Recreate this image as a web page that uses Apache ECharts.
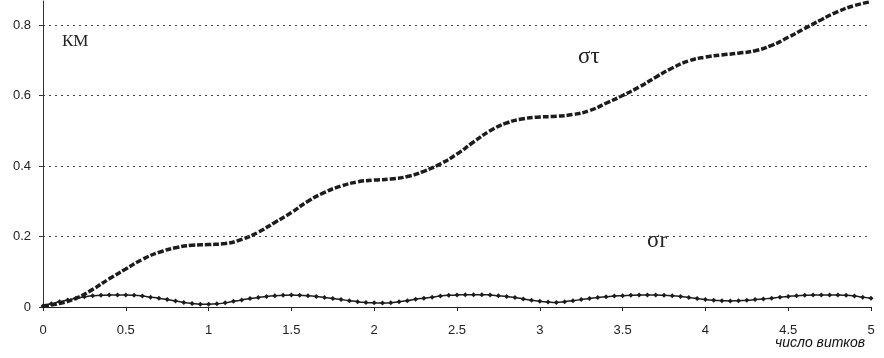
<!DOCTYPE html>
<html>
<head>
<meta charset="utf-8">
<script src="https://cdn.jsdelivr.net/npm/echarts@6/dist/echarts.min.js"></script>
<style>
  html, body { margin: 0; padding: 0; background: #fff; }
  #chart { width: 884px; height: 358px; }
</style>
</head>
<body>
<div id="chart"></div>
<script>
// Orbit count (число витков), step 0.1 for σт and 0.05 for σr
const turnsTau = [];
for (let i = 0; i <= 50; i++) turnsTau.push(+(i * 0.1).toFixed(2));
const turnsR = [];
for (let i = 0; i <= 100; i++) turnsR.push(+(i * 0.05).toFixed(2));

// σт, km
const sigmaTau = [
  0.003, 0.010, 0.025, 0.050, 0.080, 0.108, 0.135, 0.155, 0.168, 0.175,
  0.177, 0.180, 0.192, 0.212, 0.240, 0.268, 0.300, 0.325, 0.343, 0.355,
  0.360, 0.363, 0.370, 0.385, 0.406, 0.434, 0.468, 0.500, 0.522, 0.534,
  0.539, 0.541, 0.546, 0.557, 0.578, 0.600, 0.624, 0.652, 0.678, 0.698,
  0.709, 0.715, 0.720, 0.727, 0.742, 0.765, 0.790, 0.815, 0.838, 0.855,
  0.866
];

// σr, km
const sigmaR = [
  0.003, 0.009, 0.015, 0.020, 0.025, 0.029, 0.032, 0.033, 0.034, 0.034,
  0.034, 0.033, 0.031, 0.028, 0.025, 0.021, 0.017, 0.013, 0.010, 0.008,
  0.008, 0.009, 0.012, 0.016, 0.020, 0.024, 0.027, 0.030, 0.032, 0.033,
  0.034, 0.033, 0.032, 0.030, 0.027, 0.024, 0.021, 0.018, 0.015, 0.013,
  0.012, 0.011, 0.012, 0.015, 0.018, 0.022, 0.025, 0.028, 0.031, 0.033,
  0.034, 0.035, 0.035, 0.035, 0.034, 0.032, 0.030, 0.027, 0.023, 0.019,
  0.016, 0.014, 0.013, 0.015, 0.018, 0.021, 0.024, 0.027, 0.029, 0.031,
  0.032, 0.033, 0.034, 0.034, 0.034, 0.033, 0.032, 0.030, 0.027, 0.024,
  0.021, 0.019, 0.018, 0.017, 0.018, 0.019, 0.021, 0.023, 0.025, 0.028,
  0.030, 0.032, 0.033, 0.034, 0.034, 0.034, 0.034, 0.033, 0.031, 0.028,
  0.025
];

const yTicks = [0, 0.2, 0.4, 0.6, 0.8];
const gridLevels = [0.2, 0.4, 0.6, 0.8];

const ink = '#1c1c1c';
const chart = echarts.init(document.getElementById('chart'));

chart.setOption({
  backgroundColor: '#fff',
  animation: false,
  grid: { left: 43, right: 13, top: 1, bottom: 51 },
  xAxis: {
    type: 'value',
    min: 0,
    max: 5,
    interval: 0.5,
    axisLine: { onZero: true, lineStyle: { color: '#222', width: 1 } },
    axisTick: { show: true, length: 4, lineStyle: { color: '#222' } },
    axisLabel: {
      margin: 17,
      fontFamily: 'Liberation Sans, Arial, sans-serif',
      fontSize: 13,
      color: '#222',
      formatter: v => (Number.isInteger(v) ? String(v) : v.toFixed(1))
    },
    splitLine: { show: false }
  },
  yAxis: {
    type: 'value',
    min: 0,
    max: 0.868,
    interval: 0.2,
    axisLine: { show: true, lineStyle: { color: '#333', width: 1 } },
    axisTick: { show: true, length: 4, customValues: yTicks, lineStyle: { color: '#333' } },
    axisLabel: {
      margin: 12,
      customValues: yTicks,
      fontFamily: 'Liberation Sans, Arial, sans-serif',
      fontSize: 13,
      color: '#222',
      formatter: v => (v === 0 ? '0' : v.toFixed(1))
    },
    splitLine: { show: false }
  },
  series: [
    {
      name: 'στ',
      type: 'line',
      data: turnsTau.map((t, i) => [t, sigmaTau[i]]),
      smooth: true,
      showSymbol: false,
      lineStyle: { color: ink, width: 3.5, type: [6, 2] },
      z: 3,
      // dotted horizontal gridlines
      markLine: {
        silent: true,
        symbol: 'none',
        label: { show: false },
        lineStyle: { color: '#444', width: 1, type: [2, 4] },
        data: gridLevels.map(v => ({ yAxis: v }))
      }
    },
    {
      name: 'σr',
      type: 'line',
      data: turnsR.map((t, i) => [t, sigmaR[i]]),
      smooth: true,
      symbol: 'diamond',
      symbolSize: 5,
      itemStyle: { color: ink },
      lineStyle: { color: ink, width: 1.5 },
      z: 4
    }
  ],
  graphic: [
    {
      type: 'text', left: 62, top: 33,
      style: { text: 'КМ', font: '17px "Liberation Serif", "Times New Roman", serif', fill: '#222' }
    },
    {
      type: 'text', left: 578, top: 45,
      style: { text: 'στ', font: '23px "Liberation Serif", "Times New Roman", serif', fill: '#222' }
    },
    {
      type: 'text', left: 647, top: 229,
      style: { text: 'σr', font: '23px "Liberation Serif", "Times New Roman", serif', fill: '#222' }
    },
    {
      type: 'text', left: 775, top: 336,
      style: { text: 'число витков', font: 'italic 14px "Liberation Sans", Arial, sans-serif', fill: '#111' }
    }
  ]
});
</script>
</body>
</html>
